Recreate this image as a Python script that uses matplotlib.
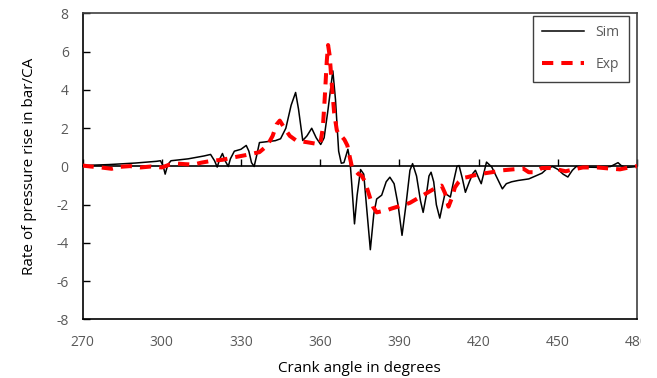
import matplotlib
matplotlib.use("Agg")
import matplotlib.pyplot as plt
from matplotlib.transforms import Bbox

plt.rcParams['font.family'] = ['Open Sans', 'DejaVu Sans']

# Simulated rate of pressure rise (crank angle deg, bar/CA)
sim_ca = [270, 280, 290, 298, 299.5, 300.5, 301.3, 302.3, 303.5, 310, 316, 318.5, 320, 321, 322, 323, 324,
          325.2, 326, 327.5, 330, 332, 333, 334, 335, 336, 337, 340, 343, 345, 347, 349, 350.7, 351.8,
          353.4, 355, 356.8, 358.5, 360.2, 361.5, 363, 364.8, 365.8, 367, 368, 369, 370.5, 371.3, 372,
          373, 374, 375.3, 376.5, 377.5, 379, 380.3, 381.4, 383.3, 385, 386.4, 388, 389.5, 391, 392.5,
          394, 395, 396.5, 398, 399, 400.2, 401.2, 402, 403, 404, 405.3, 406.5, 407.3, 408.3, 409.3,
          410.5, 411.8, 412.6, 413.8, 415, 416.5, 417.8, 418.8, 420, 421, 423, 425, 427, 429, 430.5,
          432.5, 435, 439, 442, 444, 446, 448, 450, 452, 453.8, 455.5, 457, 460, 466, 470, 472.8, 474,
          475.5, 478, 480]
sim_val = [0.05, 0.1, 0.18, 0.27, 0.3, 0.05, -0.4, 0.1, 0.3, 0.4, 0.55, 0.63, 0.3, -0.03, 0.4, 0.68, 0.3,
           0.0, 0.4, 0.8, 0.9, 1.1, 0.8, 0.2, 0.0, 0.6, 1.25, 1.3, 1.35, 1.45, 2.0, 3.2, 3.87, 3.0,
           1.36, 1.6, 2.0, 1.5, 1.15, 1.5, 3.0, 5.0, 3.5, 0.8, 0.17, 0.2, 0.9, 0.3, -1.0,
           -3.0, -1.5, -0.16, -0.4, -2.0, -4.35, -2.5, -1.7, -1.5, -0.8, -0.56, -0.9, -2.0, -3.6, -2.0,
           -0.2, 0.15, -0.5, -1.8, -2.4, -1.5, -0.5, -0.3, -0.8, -2.0, -2.7, -1.9, -1.4, -1.5, -1.6,
           -0.8, 0.0, 0.05, -0.6, -1.35, -0.8, -0.37, -0.2, -0.6, -0.9, 0.23, -0.03, -0.6, -1.17, -0.9,
           -0.8, -0.73, -0.65, -0.47, -0.35, -0.1, 0.0, -0.15, -0.4, -0.55, -0.2, 0.0, -0.03, -0.05, 0.0, 0.2, 0.05,
           -0.05, -0.03, 0.0]

# Experimental rate of pressure rise
exp_ca = [270, 273, 277, 281, 284, 288, 292, 296, 300, 303, 306, 309, 312, 315, 319, 323, 327, 332, 337,
          340, 342, 343.5, 344.7, 346.5, 348.5, 351, 355, 358, 360, 361, 361.7, 362.5, 363, 363.6, 364.4,
          365.3, 366.3, 367.3, 368, 369.2, 370.3, 371.2, 372, 372.8, 374.5, 375.7, 377, 378.8, 380,
          381.4, 383, 385, 387, 389.4, 392, 394, 396.5, 399, 401.5, 404, 406, 407.3, 408.6, 410, 411,
          412.5, 414, 416, 418, 421.6, 425, 429, 433, 436.8, 439, 441, 444, 447, 449.7, 453, 456,
          459.5, 465, 469, 473.5, 477, 480]
exp_val = [0.05, 0.0, -0.05, -0.12, -0.02, 0.02, -0.05, 0.0, -0.05, 0.1, 0.15, 0.12, 0.1, 0.2, 0.3, 0.35, 0.47, 0.6, 0.75,
           1.1, 1.6, 2.2, 2.4, 2.0, 1.6, 1.35, 1.27, 1.2, 1.15, 2.0, 3.5, 5.5, 6.35, 5.8, 4.3,
           2.8, 1.9, 1.6, 1.6, 1.4, 1.1, 0.5, 0.0, -0.15, -0.4, -0.47, -0.8, -1.6, -2.1,
           -2.4, -2.35, -2.3, -2.2, -2.1, -2.0, -1.9, -1.7, -1.5, -1.3, -1.1, -1.0, -1.4, -2.1, -1.6, -1.1,
           -0.8, -0.6, -0.55, -0.47, -0.37, -0.3, -0.2, -0.15, -0.1, -0.3, -0.3, -0.08, -0.08, -0.15, -0.25, -0.15,
           -0.05, -0.05, -0.1, -0.15, -0.05, 0.02]

x_ticks = [270, 300, 330, 360, 390, 420, 450, 480]
y_ticks = [-8, -6, -4, -2, 0, 2, 4, 6, 8]

fig = plt.figure(figsize=(6.57, 3.78), dpi=100)
ax = fig.add_axes([0.1256, 0.1548, 0.844, 0.8095])

ax.plot(sim_ca, sim_val, color='black', lw=1.1, label='Sim', zorder=3)
ax.plot(exp_ca, exp_val, color='#FF0000', lw=2.9, dashes=(2.8, 2.0), label='Exp', zorder=4)

ax.set_xlim(270, 480)
ax.set_ylim(-8, 8)

gray = '#595959'
ax.set_xticks(x_ticks)
ax.set_xticklabels([str(t) for t in x_ticks])
ax.set_yticks(y_ticks)
ax.set_yticklabels([str(t) for t in y_ticks])
ax.tick_params(axis='x', length=0, pad=11, labelsize=10, labelcolor=gray)
ax.tick_params(axis='y', direction='in', length=5, width=1, pad=10, labelsize=10, labelcolor=gray)

for s in ['left', 'bottom']:
    ax.spines[s].set_color('black')
    ax.spines[s].set_linewidth(1.2)
for s in ['top', 'right']:
    ax.spines[s].set_color('#404040')
    ax.spines[s].set_linewidth(1.2)

# zero axis line with tick marks pointing up
sec = ax.secondary_xaxis(0.5)
sec.set_xticks(x_ticks, labels=[''] * len(x_ticks))
sec.tick_params(axis='x', which='both', direction='out', length=5, width=1,
                labeltop=False, labelbottom=False, top=True, bottom=False)
for s in sec.spines.values():
    s.set_color('black')
    s.set_linewidth(1.2)

ax.set_xlabel('Crank angle in degrees', fontsize=11, labelpad=8, color='black')
ax.set_ylabel('Rate of pressure rise in bar/CA', fontsize=11, labelpad=14, color='black')

leg = ax.legend(loc='upper right', bbox_to_anchor=(0.9856, 0.993), fontsize=10,
                fancybox=False, edgecolor='#404040', framealpha=1, labelspacing=1.2,
                handlelength=3.0, borderpad=0.7, borderaxespad=0)
leg.get_frame().set_linewidth(1.0)
for t in leg.get_texts():
    t.set_color(gray)

# clip last tick label just right of the plot area as in the reference
fig.canvas.draw()
clip = Bbox.from_extents(0, 0, 641, 378)
lab = ax.xaxis.get_major_ticks()[-1].label1
lab.set_clip_box(clip)
lab.set_clip_on(True)

fig.savefig('out.png', dpi=100)
